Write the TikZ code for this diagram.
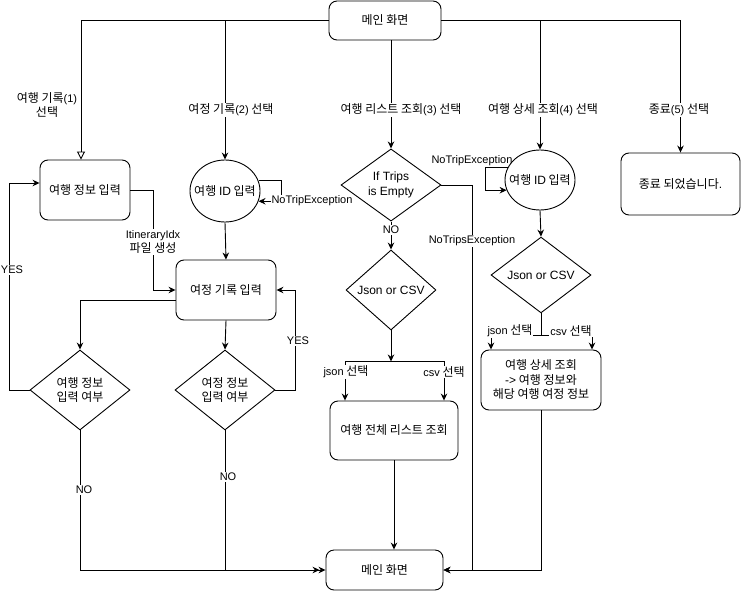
\documentclass[tikz,border=0pt]{standalone}
\usepackage{fontspec}
\setmainfont{Noto Sans CJK KR}
\newfontfamily\latfam{Liberation Sans}
\newcommand\ltn[1]{{\latfam\fontsize{11}{14}\selectfont #1}}
\newcommand\ltv[1]{{\latfam\fontsize{12}{14.5}\selectfont #1}}
\usetikzlibrary{arrows.meta,shapes.geometric,calc}
\begin{document}
\begin{tikzpicture}[x=1pt,y=-1pt,font=\fontsize{12}{14.5}\selectfont,
  ln/.style={line width=0.9pt},
  latf/.style={font=\latfam\fontsize{11}{14}\selectfont},
  latv/.style={font=\latfam\fontsize{12}{15}\selectfont},
  box/.style={draw,ln,rounded corners=8pt,fill=white,align=center,inner sep=2pt},
  dia/.style={draw,ln,diamond,inner sep=0pt,align=center,fill=white},
  ell/.style={draw,ln,ellipse,inner sep=0pt,fill=white},
  arr/.style={ln,-{Stealth[length=7pt,width=6.5pt]}},
  oarr/.style={ln,-{Triangle[open,length=8pt,width=8pt]}},
  lab/.style={fill=white,inner sep=1pt,align=center}]
\useasboundingbox (0,0) rectangle (741,591);

% nodes
\node[box,minimum width=112pt,minimum height=39pt] (main1) at (385,20.5) {메인 화면};
\node[box,minimum width=90pt,minimum height=60pt] (t1) at (85,190) {여행 정보 입력};
\node[ell,minimum width=70pt,minimum height=62pt,label={[inner sep=0pt]center:여행 \ltv{ID} 입력}] (e1) at (225,191) {};
\node[box,minimum width=100pt,minimum height=60pt] (r1) at (226,290) {여정 기록 입력};
\node[dia,minimum width=100pt,minimum height=80pt] (d1) at (80,390) {여행 정보\\입력 여부};
\node[dia,minimum width=100pt,minimum height=80pt] (d2) at (225,390) {여정 정보\\입력 여부};
\node[dia,latv,minimum width=100pt,minimum height=70pt] (dT) at (391,185) {If Trips\\is Empty};
\node[dia,latv,minimum width=90pt,minimum height=80pt] (dJ1) at (391,290) {Json or CSV};
\node[box,minimum width=128pt,minimum height=59pt] (L1) at (394,430.5) {여행 전체 리스트 조회};
\node[ell,minimum width=70pt,minimum height=60pt,label={[inner sep=0pt]center:여행 \ltv{ID} 입력}] (e2) at (540,180) {};
\node[dia,latv,minimum width=100pt,minimum height=70pt] (dJ2) at (541,275) {Json or CSV};
\node[box,minimum width=120pt,minimum height=60pt] (D) at (541,380) {여행 상세 조회\\\ltv{->} 여행 정보와\\해당 여행 여정 정보};
\node[box,minimum width=119pt,minimum height=62pt] (endb) at (680.5,184) {종료 되었습니다\ltv{.}};
\node[box,minimum width=117pt,minimum height=40pt] (main2) at (384.5,570) {메인 화면};

% top branches
\draw[oarr] (main1.west) -| ([xshift=-4pt]t1.north);
\draw[arr] (main1.west) -| (e1.north);
\draw[arr] (main1.south -| dT.north) -- (dT.north);
\draw[arr] (main1.east) -| (e2.north);
\draw[arr] (main1.east) -| (endb.north);

\node[align=center] (lb1) at (47,105) {여행 기록\ltn{(1)}\\선택};
\node[lab] (lb2) at (231,110) {여정 기록\ltn{(2)} 선택};
\node[lab] (lb3) at (401,110) {여행 리스트 조회\ltn{(3)} 선택};
\node[lab] (lb4) at (543,110) {여행 상세 조회\ltn{(4)} 선택};
\node[lab] (lb5) at (679,110) {종료\ltn{(5)} 선택};

% left part
\draw[arr] (e1.south) -- (r1.north);
\draw[arr] (e1.17) -| ($(e1.east)+(21,0)$) |- (e1.-17);
\node[lab,latf] (nte1) at (312,201) {NoTripException};

\draw[arr] (t1.east) -- ++(23,0) |- (r1.west);
\node[lab] (itl) at (153,242) {\ltn{ItineraryIdx}\\파일 생성};

\draw[arr] ($(r1.west)+(0,10)$) -| (d1.north);
\draw[arr] (r1.south) -- (d2.north);

\draw[arr] (d1.west) -- ($(d1.west)+(-20,0)$) |- ($(t1.west)+(0,-7)$);
\node[lab,latf] (yes1) at (12,270) {YES};
\draw[arr] (d2.east) -- ($(d2.east)+(20,0)$) |- (r1.east);
\node[lab,latf] (yes2) at (298,341) {YES};

\draw[arr,shorten >=6pt] (d1.south) |- (main2.west);
\draw[arr] (d2.south) |- (main2.west);
\node[lab,latf] (no1) at (84,490) {NO};
\node[lab,latf] (no2) at (228,477) {NO};

% middle part
\draw[arr] (dT.south) -- (dJ1.north);
\node[lab,latf] (no3) at (391,230) {NO};
\draw[arr] (dT.east) -- ++(31,0) |- (main2.east);
\node[lab,latf] (ntse) at (472,241) {NoTripsException};

\coordinate (jn1) at ($(dJ1.south)+(0,31)$);
\draw[arr] (dJ1.south) -- (jn1);
\draw[arr] (jn1) -| ($(L1.north)+(-49,0)$);
\draw[arr] (jn1) -| ($(L1.north)+(50,0)$);
\node[lab] (js1) at (346,372) {\ltn{json} 선택};
\node[lab] (cs1) at (444,372) {\ltn{csv} 선택};

\draw[arr] (L1.south) -- (L1.south |- main2.north);

% right part
\draw[arr] (e2.159) -| ($(e2.west)+(-19,0)$) |- (e2.197);
\node[latf] (nte2) at (472,161) {NoTripException};
\draw[arr] (e2.south) -- (dJ2.north);

\coordinate (jn2) at ($(dJ2.south)+(0,22)$);
\draw[ln] (dJ2.south) -- (jn2);
\draw[arr] (jn2) -| ($(D.north)+(-50,0)$);
\draw[arr] (jn2) -| ($(D.north)+(51,0)$);
\node[lab] (js2) at (510,331) {\ltn{json} 선택};
\node[lab] (cs2) at (571,331) {\ltn{csv} 선택};

\draw[arr] (D.south) |- (main2.east);
\end{tikzpicture}
\end{document}
